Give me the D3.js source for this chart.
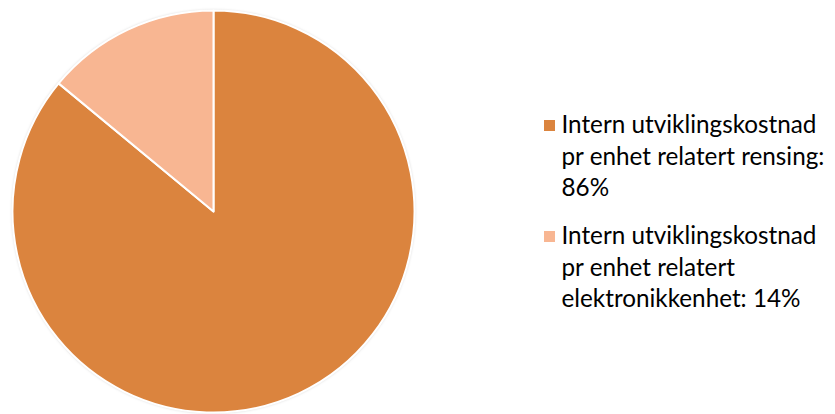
<!DOCTYPE html>
<html>
<head>
<meta charset="utf-8">
<script src="https://cdn.jsdelivr.net/npm/d3@7/dist/d3.min.js"></script>
<style>
  html, body { margin: 0; padding: 0; background: #fff; }
  svg { display: block; }
</style>
</head>
<body>
<svg id="chart" width="835" height="414"></svg>
<script>
// Cost split of internal development per unit
const categories = [
  "Intern utviklingskostnad pr enhet relatert rensing",
  "Intern utviklingskostnad pr enhet relatert elektronikkenhet"
];
const values = [86, 14];
const colors = ["#DB843E", "#F8B692"];
// Legend lines as wrapped in the legend box
const legendLines = [
  ["Intern utviklingskostnad", "pr enhet relatert rensing:", "86%"],
  ["Intern utviklingskostnad", "pr enhet relatert", "elektronikkenhet: 14%"]
];

const svg = d3.select("#chart");
const cx = 213.5, cy = 211.5, r = 201;

const defs = svg.append("defs");
const f = defs.append("filter").attr("id", "shadow")
  .attr("x", "-10%").attr("y", "-10%").attr("width", "120%").attr("height", "120%");
f.append("feDropShadow").attr("dx", 0).attr("dy", 0)
  .attr("stdDeviation", 1.6).attr("flood-color", "#000").attr("flood-opacity", 0.25);

const pie = d3.pie().sort(null).value(d => d);
const arc = d3.arc().innerRadius(0).outerRadius(r);

const g = svg.append("g").attr("transform", `translate(${cx},${cy})`);
g.append("circle").attr("r", r).attr("fill", colors[0]).attr("filter", "url(#shadow)");
g.selectAll("path.slice")
  .data(pie(values))
  .join("path")
  .attr("class", "slice")
  .attr("d", arc)
  .attr("fill", (d, i) => colors[i])
  .attr("stroke", "#fff")
  .attr("stroke-width", 2)
  .attr("stroke-linejoin", "round");

// Legend
const font = "Lato, 'Open Sans', sans-serif";
const legend = svg.append("g");
const items = legend.selectAll("g.item")
  .data(categories)
  .join("g")
  .attr("class", "item")
  .attr("transform", (d, i) => `translate(0,${i === 0 ? 0 : 111})`);

items.append("rect")
  .attr("x", 544).attr("y", 120)
  .attr("width", 11).attr("height", 11)
  .attr("fill", (d, i) => colors[i]);

const texts = items.append("text")
  .attr("x", 561.5).attr("y", 133)
  .attr("font-family", font)
  .attr("font-size", 22)
  .attr("fill", "#000");

texts.selectAll("tspan")
  .data((d, i) => legendLines[i])
  .join("tspan")
  .attr("x", 561.5)
  .attr("y", (d, j) => 133 + j * 31.7)
  .text(d => d);

// Fit the legend font so the widest first line spans the legend column
const probe = texts.node().querySelector("tspan");
const w = probe.getComputedTextLength();
const target = 255;
texts.attr("font-size", 22 * target / w);
</script>
</body>
</html>
